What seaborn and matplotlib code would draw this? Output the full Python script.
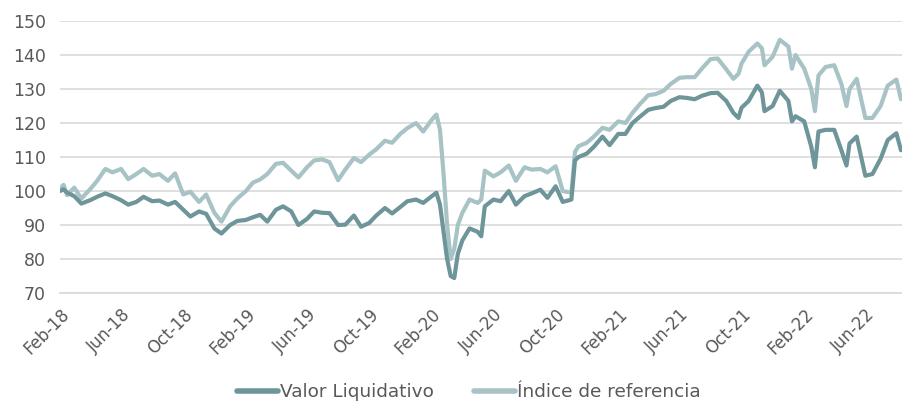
import matplotlib
matplotlib.use("Agg")
import matplotlib.pyplot as plt
import matplotlib.dates as mdates
import pandas as pd
import seaborn as sns

# values
dates = [
    "2018-02-01", "2018-02-08", "2018-02-15", "2018-03-01", "2018-03-15", "2018-04-01", "2018-04-15",
    "2018-05-01", "2018-05-15", "2018-06-01", "2018-06-15", "2018-07-01", "2018-07-15", "2018-08-01",
    "2018-08-15", "2018-09-01", "2018-09-15", "2018-10-01", "2018-10-15", "2018-11-01", "2018-11-15",
    "2018-12-01", "2018-12-15", "2019-01-01", "2019-01-15", "2019-02-01", "2019-02-15", "2019-03-01",
    "2019-03-15", "2019-04-01", "2019-04-15", "2019-05-01", "2019-05-15", "2019-06-01", "2019-06-15",
    "2019-07-01", "2019-07-15", "2019-08-01", "2019-08-15", "2019-09-01", "2019-09-15", "2019-10-01",
    "2019-10-15", "2019-11-01", "2019-11-15", "2019-12-01", "2019-12-15", "2020-01-01", "2020-01-15",
    "2020-02-01", "2020-02-10", "2020-02-17", "2020-02-24", "2020-03-02", "2020-03-09", "2020-03-16",
    "2020-03-23", "2020-04-01", "2020-04-15", "2020-05-01", "2020-05-08", "2020-05-15", "2020-06-01",
    "2020-06-15", "2020-07-01", "2020-07-15", "2020-08-01", "2020-08-15", "2020-09-01", "2020-09-15",
    "2020-10-01", "2020-10-15", "2020-11-01", "2020-11-08", "2020-11-15", "2020-12-01", "2020-12-15",
    "2021-01-01", "2021-01-15", "2021-02-01", "2021-02-15", "2021-03-01", "2021-03-15", "2021-04-01",
    "2021-04-15", "2021-05-01", "2021-05-15", "2021-06-01", "2021-06-15", "2021-07-01", "2021-07-15",
    "2021-08-01", "2021-08-15", "2021-09-01", "2021-09-15", "2021-09-25", "2021-10-01", "2021-10-15",
    "2021-11-01", "2021-11-10", "2021-11-15", "2021-12-01", "2021-12-15", "2022-01-01", "2022-01-08",
    "2022-01-15", "2022-02-01", "2022-02-15", "2022-02-22", "2022-03-01", "2022-03-15", "2022-04-01",
    "2022-04-15", "2022-04-25", "2022-05-01", "2022-05-15", "2022-06-01", "2022-06-15", "2022-07-01",
    "2022-07-15", "2022-08-01", "2022-08-10",
]

valor_liquidativo = [
    100, 100.5, 99.5, 98.5, 96.3, 97.3, 98.3,
    99.3, 98.5, 97.3, 96, 96.8, 98.3, 97,
    97.2, 96, 96.8, 94.5, 92.5, 94, 93.3,
    89, 87.5, 90, 91.2, 91.5, 92.3, 93,
    91, 94.5, 95.5, 94, 90, 91.8, 94,
    93.6, 93.5, 90, 90.1, 92.8, 89.5, 90.6,
    92.8, 95, 93.4, 95.3, 97, 97.5, 96.5,
    98.5, 99.5, 96, 88, 80, 75, 74.4,
    81.5, 85.5, 89, 88, 86.7, 95.5, 97.5,
    97, 100, 96, 98.5, 99.3, 100.4, 98,
    101.4, 96.8, 97.5, 109, 110, 111, 113,
    116, 113.5, 116.8, 116.8, 120, 121.8, 123.9,
    124.4, 124.8, 126.5, 127.6, 127.4, 127, 128,
    128.8, 128.9, 126.5, 123, 121.5, 124.5, 126.5,
    131, 129, 123.5, 125, 129.5, 126.5, 120.5,
    122, 120.5, 113, 107, 117.5, 118, 118,
    112, 107.5, 114, 116, 104.5, 105, 109.5,
    115, 117, 112,
]

indice_referencia = [
    100.5, 101.8, 98.8, 101, 97.8, 100.5, 103,
    106.5, 105.5, 106.5, 103.5, 105, 106.5, 104.5,
    105, 103, 105.2, 99, 99.8, 96.8, 99,
    93.6, 91, 95.5, 97.8, 100, 102.5, 103.4,
    105, 108, 108.3, 106, 104, 107, 109,
    109.3, 108.5, 103.2, 106.3, 109.7, 108.5, 110.7,
    112.3, 114.8, 114.2, 116.8, 118.5, 120, 117.5,
    121, 122.5, 118, 105, 90, 80, 83,
    90, 93.6, 97.5, 96.5, 97.5, 106, 104.3,
    105.5, 107.5, 103, 107, 106.3, 106.5, 105.5,
    107.3, 100, 99.5, 111.5, 113.2, 114.2, 116,
    118.6, 118, 120.5, 120, 123, 125.5, 128.2,
    128.5, 129.5, 131.5, 133.3, 133.5, 133.5, 136,
    138.8, 139, 135.8, 133, 134.5, 137.5, 141,
    143.4, 142, 137, 139.5, 144.5, 142.5, 136,
    140, 136, 130, 123.5, 134, 136.5, 137,
    131.5, 125, 130, 133, 121.5, 121.5, 125,
    131, 132.8, 127,
]

series_names = ["Valor Liquidativo", "Índice de referencia"]
tick_dates = ["2018-02-01", "2018-06-01", "2018-10-01", "2019-02-01", "2019-06-01", "2019-10-01",
              "2020-02-01", "2020-06-01", "2020-10-01", "2021-02-01", "2021-06-01", "2021-10-01",
              "2022-02-01", "2022-06-01"]

df = pd.DataFrame({
    "fecha": pd.to_datetime(dates * 2),
    "valor": valor_liquidativo + indice_referencia,
    "serie": [series_names[0]] * len(dates) + [series_names[1]] * len(dates),
})

sns.set_style("white")
plt.rcParams["font.family"] = ["DejaVu Sans"]

fig = plt.figure(figsize=(9.02, 4.05), dpi=100)
ax = fig.add_axes([0.0665, 0.2765, 0.9335, 0.6715])

palette = {series_names[0]: "#6e9599", series_names[1]: "#a8c3c5"}
sns.lineplot(data=df, x="fecha", y="valor", hue="serie", hue_order=series_names[::-1],
             palette=palette, linewidth=3.0, ax=ax, legend=False)

ax.set_ylim(70, 150)
ax.set_yticks(range(70, 151, 10))
ax.set_xlim(pd.Timestamp("2018-02-01"), pd.Timestamp("2022-08-12"))
ax.set_xticks(pd.to_datetime(tick_dates))
ax.xaxis.set_major_formatter(mdates.DateFormatter("%b-%y"))
ax.set_xlabel("")
ax.set_ylabel("")

ax.grid(axis="y", color="#d9d9d9", linewidth=1.2)
ax.set_axisbelow(True)
for s in ["top", "right", "left"]:
    ax.spines[s].set_visible(False)
ax.spines["bottom"].set_color("#d9d9d9")
ax.spines["bottom"].set_linewidth(1.2)
ax.tick_params(axis="x", colors="#d9d9d9", length=6, width=1.2, labelcolor="#595959",
               labelsize=12, pad=3)
ax.tick_params(axis="y", length=0, labelcolor="#595959", labelsize=12.5, pad=10)
plt.setp(ax.get_xticklabels(), rotation=45, ha="right", rotation_mode="anchor")

handles = [plt.Line2D([], [], color=palette[n], linewidth=4) for n in series_names]
fig.legend(handles, series_names, loc="center", bbox_to_anchor=(0.52, 0.032), ncol=2,
           frameon=False, fontsize=13.3, handlelength=2.2, handletextpad=0.1,
           columnspacing=2.2, labelcolor="#595959", borderpad=0.2)

fig.savefig("out.png", dpi=100)
